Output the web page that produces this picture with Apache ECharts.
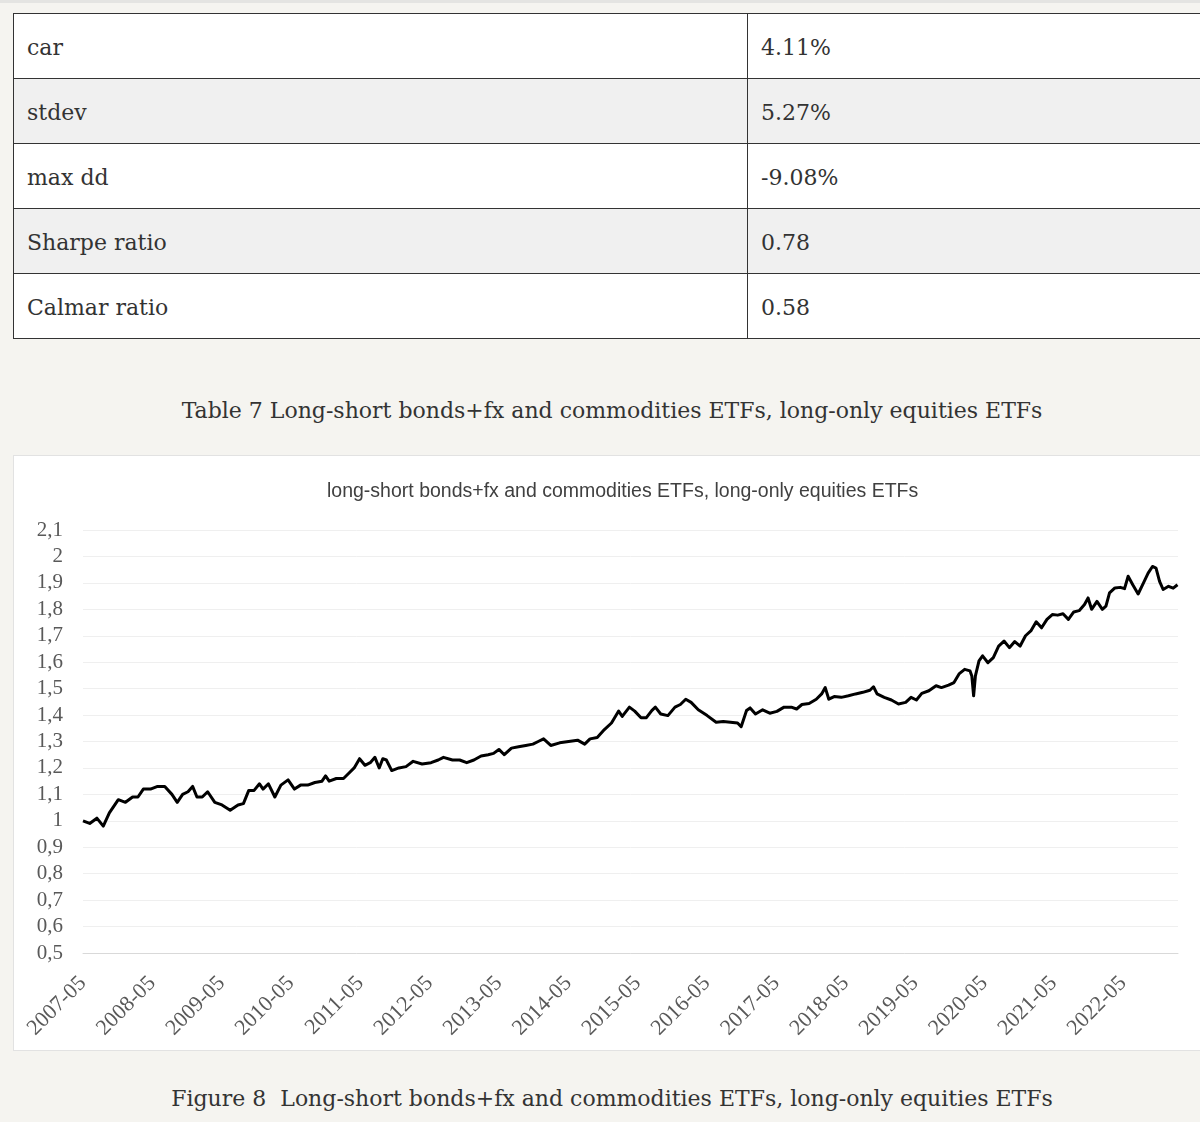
<!DOCTYPE html>
<html>
<head>
<meta charset="utf-8">
<script src="https://cdn.jsdelivr.net/npm/echarts@6/dist/echarts.min.js"></script>
<style>
  html, body { margin: 0; padding: 0; }
  body { width: 1200px; height: 1122px; overflow: hidden; background: #f5f4f0; position: relative; font-family: "DejaVu Serif", serif; color: #333; }
  #topstrip { position: absolute; left: 0; top: 0; width: 1200px; height: 3px; background: #e4e4e2; }
  #stats { position: absolute; left: 13px; top: 13px; width: 1198px; border-collapse: collapse; font-size: 22px; }
  #stats td { border: 1px solid #333; height: 65px; padding: 2px 13px 0 13px; vertical-align: middle; box-sizing: border-box; }
  #stats tr:nth-child(odd) td { background: #ffffff; }
  #stats tr:nth-child(even) td { background: #f0f0f0; }
  #stats td:first-child { width: 734px; }
  .caption { position: absolute; left: 13px; width: 1198px; text-align: center; font-size: 22px; white-space: pre; color: #333; }
  #chartbox { position: absolute; left: 13px; top: 455px; width: 1196px; height: 594px; border: 1px solid #e2e2e2; background: #fff; }
  #chart { width: 1196px; height: 594px; }
</style>
</head>
<body>
<div id="topstrip"></div>
<table id="stats"><tbody></tbody></table>
<div class="caption" id="cap1" style="top:398px;"></div>
<div id="chartbox"><div id="chart"></div></div>
<div class="caption" id="cap2" style="top:1086px;"></div>
<script>
// ---- table data ----
const statNames = ["car", "stdev", "max dd", "Sharpe ratio", "Calmar ratio"];
const statValues = ["4.11%", "5.27%", "-9.08%", "0.78", "0.58"];
const tableCaption = "Table 7 Long-short bonds+fx and commodities ETFs, long-only equities ETFs";
const figureCaption = "Figure 8  Long-short bonds+fx and commodities ETFs, long-only equities ETFs";
const chartTitle = "long-short bonds+fx and commodities ETFs, long-only equities ETFs";

// ---- chart data: x = months elapsed since 2007-05, y = equity curve ----
const monthsSince200705 = [0, 1.16, 2.40, 3.51, 4.56, 6.11, 7.35, 8.58, 9.51, 10.44, 11.68, 12.91, 14.15, 15.39, 16.31, 17.24, 18.17, 18.97, 19.72, 20.64, 21.57, 22.81, 24.05, 25.47, 26.83, 27.76, 28.69, 29.61, 30.54, 31.16, 32.09, 33.20, 34.25, 35.49, 36.60, 37.65, 38.89, 40.13, 41.36, 41.98, 42.60, 43.84, 45.08, 46.00, 46.93, 47.86, 48.79, 49.71, 50.52, 51.26, 51.88, 52.50, 53.43, 54.66, 55.90, 57.14, 58.68, 60.23, 61.47, 62.39, 63.94, 65.18, 66.41, 67.65, 68.89, 70.12, 71.05, 71.98, 72.91, 74.15, 75.38, 76.62, 77.86, 78.78, 79.71, 80.95, 82.49, 84.04, 85.59, 86.82, 87.75, 88.99, 90.23, 91.46, 92.70, 93.32, 94.56, 95.48,
  96.57, 97.50, 98.43, 99.05, 99.98, 101.22, 102.45, 103.38, 104.31, 105.24, 106.48, 108.02, 109.57, 110.81, 112.05, 113.28, 113.90, 114.83, 115.45, 116.38, 117.62, 118.85, 120.09, 121.33, 122.57, 123.50, 124.42, 125.66, 126.90, 127.83, 128.45, 129.07, 130.00, 131.23, 132.47, 133.71, 134.95, 136.18, 136.80, 137.42, 138.66, 139.90, 141.13, 142.37, 143.30, 144.23, 145.16, 146.39, 147.63, 148.56, 149.80, 150.73, 151.66, 152.58, 153.51, 153.82, 154.13, 154.44, 155.06, 155.68, 156.61, 157.54, 158.46, 159.39, 160.32, 161.25, 162.18, 163.11, 164.03, 164.96, 165.89, 166.82, 167.75, 168.68, 169.60, 170.53, 171.46, 172.39, 173.32, 173.94, 174.55, 175.48, 176.41, 177.03, 177.65, 178.58, 179.51, 180.25, 180.87, 181.67, 182.60, 183.53, 184.33, 185.08, 185.70, 186.31, 186.93, 187.86, 188.67, 189.41];
const equity = [1.00, 0.99, 1.01, 0.98, 1.03, 1.08, 1.07, 1.09, 1.09, 1.12, 1.12, 1.13, 1.13, 1.10, 1.07, 1.10, 1.11, 1.13, 1.09, 1.09, 1.11, 1.07, 1.06, 1.04, 1.06, 1.065, 1.115, 1.115, 1.14, 1.12, 1.14, 1.09, 1.135, 1.155, 1.12, 1.135, 1.135, 1.145, 1.15, 1.17, 1.15, 1.16, 1.16, 1.18, 1.20, 1.235, 1.21, 1.22, 1.24, 1.20, 1.235, 1.23, 1.19, 1.20, 1.205, 1.225, 1.215, 1.22, 1.23, 1.24, 1.23, 1.23, 1.22, 1.23, 1.245, 1.25, 1.255, 1.27, 1.25, 1.275, 1.28, 1.285, 1.29, 1.30, 1.31, 1.285, 1.295, 1.30, 1.305, 1.29, 1.31, 1.315, 1.345, 1.37, 1.415, 1.395, 1.43, 1.415,
  1.39, 1.39, 1.417, 1.43, 1.404, 1.398, 1.43, 1.44, 1.46, 1.448, 1.42, 1.398, 1.373, 1.376, 1.373, 1.37, 1.356, 1.417, 1.427, 1.404, 1.42, 1.407, 1.414, 1.43, 1.43, 1.423, 1.44, 1.444, 1.46, 1.48, 1.504, 1.46, 1.47, 1.467, 1.473, 1.48, 1.486, 1.494, 1.507, 1.48, 1.467, 1.457, 1.442, 1.448, 1.467, 1.457, 1.482, 1.492, 1.511, 1.504, 1.513, 1.523, 1.557, 1.573, 1.567, 1.548, 1.473, 1.548, 1.605, 1.624, 1.598, 1.617, 1.661, 1.68, 1.655, 1.678, 1.661, 1.70, 1.718, 1.753, 1.73, 1.762, 1.78, 1.778, 1.783, 1.762, 1.79, 1.795, 1.818, 1.843, 1.80, 1.83, 1.80, 1.812, 1.862, 1.881, 1.883, 1.878, 1.925, 1.893, 1.858, 1.90, 1.937, 1.962, 1.956, 1.906, 1.875, 1.887, 1.88, 1.893];
const xLabelYears = [2007, 2008, 2009, 2010, 2011, 2012, 2013, 2014, 2015, 2016, 2017, 2018, 2019, 2020, 2021, 2022];
const yTicks = [0.5, 0.6, 0.7, 0.8, 0.9, 1.0, 1.1, 1.2, 1.3, 1.4, 1.5, 1.6, 1.7, 1.8, 1.9, 2.0, 2.1];

// ---- build table ----
const tbody = document.querySelector('#stats tbody');
statNames.forEach((n, i) => {
  const tr = document.createElement('tr');
  const a = document.createElement('td'); a.textContent = n;
  const b = document.createElement('td'); b.textContent = statValues[i];
  tr.appendChild(a); tr.appendChild(b); tbody.appendChild(tr);
});
document.getElementById('cap1').textContent = tableCaption;
document.getElementById('cap2').textContent = figureCaption;

// ---- chart ----
const seriesData = monthsSince200705.map((m, i) => [m, equity[i]]);
const chart = echarts.init(document.getElementById('chart'), null, { renderer: 'canvas' });
chart.setOption({
  animation: false,
  backgroundColor: '#ffffff',
  title: {
    text: chartTitle,
    left: 313,
    top: 21,
    padding: [5, 0, 5, 0],
    textStyle: { fontFamily: 'Liberation Sans, Arial, sans-serif', fontSize: 19.5, fontWeight: 'normal', color: '#404040' }
  },
  grid: { left: 69, right: 32, top: 74, bottom: 97, containLabel: false },
  xAxis: {
    type: 'value',
    min: 0,
    max: 189.5,
    interval: 12,
    axisLine: { show: true, lineStyle: { color: '#d9d9d9', width: 1 } },
    axisTick: { show: false },
    splitLine: { show: false },
    axisLabel: {
      rotate: 45,
      margin: 27,
      showMaxLabel: false,
      fontFamily: 'Liberation Serif, Times New Roman, serif',
      fontSize: 22,
      color: '#595959',
      formatter: function (v) {
        const k = Math.round(v / 12);
        if (Math.abs(v - k * 12) > 1e-6 || k >= xLabelYears.length) return '';
        return xLabelYears[k] + '-05';
      }
    }
  },
  yAxis: {
    type: 'value',
    min: yTicks[0],
    max: yTicks[yTicks.length - 1],
    interval: 0.1,
    axisLine: { show: false },
    axisTick: { show: false },
    splitLine: { show: true, lineStyle: { color: '#efefef', width: 1 } },
    axisLabel: {
      margin: 20,
      fontFamily: 'Liberation Serif, Times New Roman, serif',
      fontSize: 21,
      color: '#595959',
      formatter: function (v) { return String(+v.toFixed(1)).replace('.', ','); }
    }
  },
  series: [{
    type: 'line',
    data: seriesData,
    showSymbol: false,
    symbol: 'none',
    lineStyle: { color: '#000000', width: 3, join: 'round' },
    z: 3
  }]
});
</script>
</body>
</html>
